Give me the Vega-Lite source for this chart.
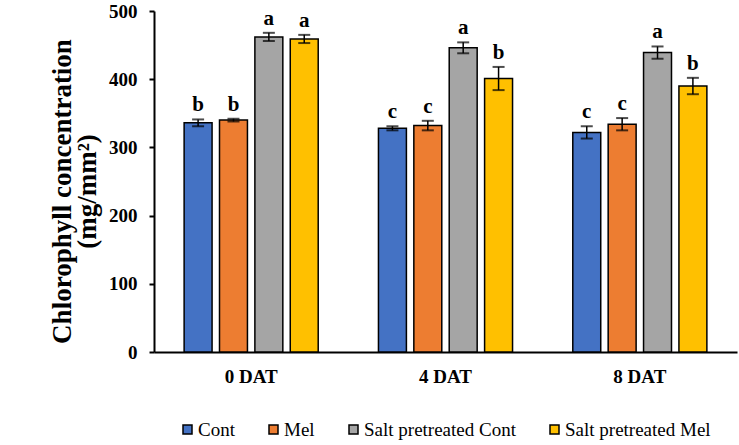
{
  "$schema": "https://vega.github.io/schema/vega-lite/v6.json",
  "width": 583,
  "height": 341,
  "autosize": {"type": "none"},
  "padding": {"left": 154, "top": 11, "right": 2, "bottom": 93},
  "background": "white",
  "config": {
    "view": {"stroke": null},
    "font": "Liberation Serif",
    "axis": {"grid": false, "labelFont": "Liberation Serif", "titleFont": "Liberation Serif"},
    "legend": {"labelFont": "Liberation Serif", "titleFont": "Liberation Serif"},
    "text": {"font": "Liberation Serif"}
  },
  "data": {
    "values": [
      {"day": "0 DAT", "trt": "Cont", "mean": 336, "lo": 331, "hi": 341, "letter": "b"},
      {"day": "0 DAT", "trt": "Mel", "mean": 340, "lo": 338, "hi": 342, "letter": "b"},
      {"day": "0 DAT", "trt": "Salt pretreated Cont", "mean": 462, "lo": 456, "hi": 468, "letter": "a"},
      {"day": "0 DAT", "trt": "Salt pretreated Mel", "mean": 459, "lo": 453, "hi": 465, "letter": "a"},
      {"day": "4 DAT", "trt": "Cont", "mean": 328, "lo": 325, "hi": 331, "letter": "c"},
      {"day": "4 DAT", "trt": "Mel", "mean": 332, "lo": 325, "hi": 339, "letter": "c"},
      {"day": "4 DAT", "trt": "Salt pretreated Cont", "mean": 446, "lo": 438, "hi": 454, "letter": "a"},
      {"day": "4 DAT", "trt": "Salt pretreated Mel", "mean": 401, "lo": 384, "hi": 418, "letter": "b"},
      {"day": "8 DAT", "trt": "Cont", "mean": 322, "lo": 313, "hi": 331, "letter": "c"},
      {"day": "8 DAT", "trt": "Mel", "mean": 334, "lo": 325, "hi": 343, "letter": "c"},
      {"day": "8 DAT", "trt": "Salt pretreated Cont", "mean": 439, "lo": 430, "hi": 448, "letter": "a"},
      {"day": "8 DAT", "trt": "Salt pretreated Mel", "mean": 390, "lo": 378, "hi": 402, "letter": "b"}
    ]
  },
  "encoding": {
    "x": {
      "field": "day",
      "type": "nominal",
      "sort": ["0 DAT", "4 DAT", "8 DAT"],
      "scale": {"paddingInner": 0.31, "paddingOuter": 0.155},
      "axis": {
        "title": null,
        "labelAngle": 0,
        "labelFont": "Liberation Serif",
        "labelFontWeight": "bold",
        "labelFontSize": 19,
        "labelColor": "black",
        "labelPadding": 15,
        "ticks": false,
        "domainColor": "black",
        "domainWidth": 2
      }
    },
    "xOffset": {
      "field": "trt",
      "type": "nominal",
      "sort": ["Cont", "Mel", "Salt pretreated Cont", "Salt pretreated Mel"],
      "scale": {"paddingInner": 0.21, "paddingOuter": 0}
    }
  },
  "layer": [
    {
      "mark": {"type": "bar", "stroke": "black", "strokeWidth": 1.5},
      "encoding": {
        "y": {
          "field": "mean",
          "type": "quantitative",
          "scale": {"domain": [0, 500], "nice": false},
          "axis": {
            "values": [0, 100, 200, 300, 400, 500],
            "labelFont": "Liberation Serif",
            "labelFontWeight": "bold",
            "labelFontSize": 19,
            "labelColor": "black",
            "labelPadding": 12,
            "tickColor": "black",
            "tickWidth": 2,
            "tickSize": 5,
            "domainColor": "black",
            "domainWidth": 2,
            "title": ["Chlorophyll concentration", "(mg/mm²)"],
            "titleFont": "Liberation Serif",
            "titleFontWeight": "bold",
            "titleFontSize": 27,
            "titleLineHeight": 25,
            "titleColor": "black",
            "titleX": -78,
            "titleY": 180,
            "titleAngle": -90,
            "titleAlign": "center",
            "titleBaseline": "bottom"
          }
        },
        "fill": {
          "field": "trt",
          "type": "nominal",
          "sort": ["Cont", "Mel", "Salt pretreated Cont", "Salt pretreated Mel"],
          "scale": {
            "domain": ["Cont", "Mel", "Salt pretreated Cont", "Salt pretreated Mel"],
            "range": ["#4472C4", "#ED7D31", "#A5A5A5", "#FFC000"]
          },
          "legend": {
            "title": null,
            "orient": "none",
            "direction": "horizontal",
            "legendX": 24,
            "legendY": 409,
            "gridAlign": "none",
            "symbolType": "square",
            "symbolSize": 81,
            "symbolStrokeColor": "black",
            "symbolStrokeWidth": 1.5,
            "symbolOpacity": 1,
            "labelFont": "Liberation Serif",
            "labelFontSize": 19,
            "labelColor": "black",
            "labelOffset": 1,
            "columnPadding": 29
          }
        }
      }
    },
    {
      "mark": {"type": "rule", "color": "black", "strokeWidth": 1.5},
      "encoding": {
        "y": {"field": "lo", "type": "quantitative"},
        "y2": {"field": "hi"}
      }
    },
    {
      "mark": {"type": "tick", "color": "black", "thickness": 2, "size": 12},
      "encoding": {
        "y": {"field": "lo", "type": "quantitative"}
      }
    },
    {
      "mark": {"type": "tick", "color": "black", "thickness": 2, "size": 12},
      "encoding": {
        "y": {"field": "hi", "type": "quantitative"}
      }
    },
    {
      "mark": {"type": "text", "font": "Liberation Serif", "fontWeight": "bold", "fontSize": 21, "color": "black", "baseline": "alphabetic", "dy": -8},
      "encoding": {
        "y": {"field": "hi", "type": "quantitative"},
        "text": {"field": "letter"}
      }
    }
  ]
}
